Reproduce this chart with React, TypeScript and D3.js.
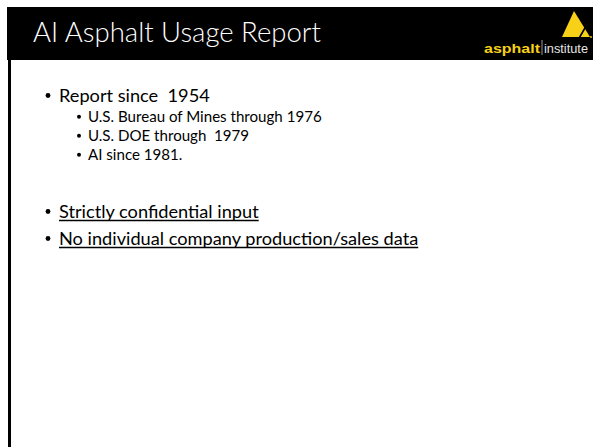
import React, { useEffect, useRef } from "react";
import * as d3 from "d3";

const WIDTH = 593;
const HEIGHT = 447;

const TITLE = "AI Asphalt Usage Report";
const mainBullets = ["Report since  1954"];
const subBullets = [
  "U.S. Bureau of Mines through 1976",
  "U.S. DOE through  1979",
  "AI since 1981.",
];
const noteBullets = [
  "Strictly confidential input",
  "No individual company production/sales data",
];
const logoWords = ["asphalt", "institute"];

const FONT = "Lato, 'Open Sans', 'Noto Sans', sans-serif";

const App = () => {
  const ref = useRef<SVGSVGElement | null>(null);

  useEffect(() => {
    const svg = d3.select(ref.current);
    svg.selectAll("*").remove();

    svg.append("rect").attr("width", WIDTH).attr("height", HEIGHT).attr("fill", "#fff");

    /* header band + left rule */
    svg.append("rect").attr("x", 7).attr("y", 7).attr("width", WIDTH - 7).attr("height", 53).attr("fill", "#000");
    svg.append("rect").attr("x", 8).attr("y", 60).attr("width", 3).attr("height", HEIGHT - 60).attr("fill", "#000");

    svg
      .append("text")
      .attr("x", 33)
      .attr("y", 42)
      .attr("fill", "#fff")
      .attr("font-family", FONT)
      .attr("font-weight", 300)
      .attr("font-size", 27.5)
      .attr("textLength", 288)
      .attr("lengthAdjust", "spacingAndGlyphs")
      .text(TITLE);

    /* logo */
    const logo = svg.append("g");
    logo
      .append("path")
      .attr("d", d3.line()([[562, 37], [574, 11], [590, 37]]) + "Z")
      .attr("fill", "#f7d117");
    logo
      .append("path")
      .attr("d", d3.line()([[585.5, 27], [579.5, 37.5]]))
      .attr("stroke", "#000")
      .attr("stroke-width", 1.6);
    logo.append("circle").attr("cx", 591).attr("cy", 37).attr("r", 0.9).attr("fill", "#f7d117");
    logo
      .append("text")
      .attr("x", 484)
      .attr("y", 52.5)
      .attr("fill", "#f7d117")
      .attr("font-family", "'Liberation Sans', Arial, sans-serif")
      .attr("font-weight", 700)
      .attr("font-size", 13.5)
      .attr("textLength", 56)
      .attr("lengthAdjust", "spacingAndGlyphs")
      .text(logoWords[0]);
    logo
      .append("line")
      .attr("x1", 542)
      .attr("x2", 542)
      .attr("y1", 40)
      .attr("y2", 55)
      .attr("stroke", "#9a9a9a")
      .attr("stroke-width", 1);
    logo
      .append("text")
      .attr("x", 544)
      .attr("y", 52.5)
      .attr("fill", "#e6e6e6")
      .attr("font-family", "'Liberation Sans', Arial, sans-serif")
      .attr("font-size", 12.5)
      .attr("textLength", 44)
      .attr("lengthAdjust", "spacingAndGlyphs")
      .text(logoWords[1]);

    /* body bullets */
    const body = svg.append("g").attr("font-family", FONT).attr("fill", "#000");

    const yMain = d3.scaleLinear().domain([0, 1]).range([102, 128]);
    const ySub = d3.scaleLinear().domain([0, subBullets.length - 1]).range([122, 160]);
    const yNote = d3.scaleLinear().domain([0, noteBullets.length - 1]).range([218, 245]);

    const main = body.selectAll("g.main").data(mainBullets).join("g").attr("class", "main");
    main.append("circle").attr("cx", 48).attr("cy", (d, i) => yMain(i) - 6.5).attr("r", 2.4);
    main
      .append("text")
      .attr("x", 59)
      .attr("y", (d, i) => yMain(i))
      .attr("font-size", 18.2)
      .style("white-space", "pre")
      .text((d) => d);

    const sub = body.selectAll("g.sub").data(subBullets).join("g").attr("class", "sub");
    sub.append("circle").attr("cx", 79).attr("cy", (d, i) => ySub(i) - 5.3).attr("r", 2);
    sub
      .append("text")
      .attr("x", 88)
      .attr("y", (d, i) => ySub(i))
      .attr("font-size", 15.1)
      .style("white-space", "pre")
      .text((d) => d);

    const note = body.selectAll("g.note").data(noteBullets).join("g").attr("class", "note");
    note.append("circle").attr("cx", 48).attr("cy", (d, i) => yNote(i) - 6.5).attr("r", 2.4);
    note
      .append("text")
      .attr("x", 59)
      .attr("y", (d, i) => yNote(i))
      .attr("font-size", 18.2)
      .text((d) => d);
    note.each(function (d, i) {
      const t = d3.select(this).select<SVGTextElement>("text").node();
      const w = t ? t.getComputedTextLength() : 0;
      d3.select(this)
        .append("line")
        .attr("x1", 59)
        .attr("x2", 59 + w)
        .attr("y1", yNote(i) + 2.5)
        .attr("y2", yNote(i) + 2.5)
        .attr("stroke", "#000")
        .attr("stroke-width", 1.4);
    });
  }, []);

  return (
    <svg
      ref={ref}
      width={WIDTH}
      height={HEIGHT}
      style={{ position: "absolute", left: 0, top: 0 }}
    />
  );
};

export default App;
